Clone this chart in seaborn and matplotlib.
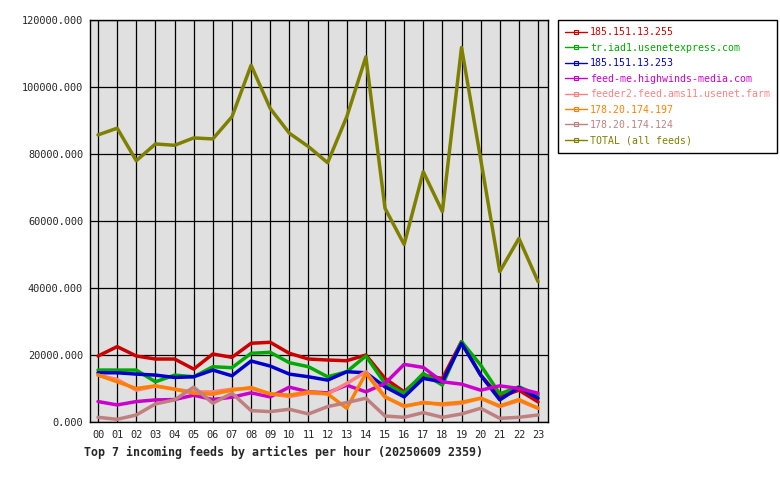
import pandas as pd
import matplotlib
matplotlib.use("Agg")
import matplotlib.pyplot as plt
import seaborn as sns
from matplotlib.lines import Line2D

HOURS = [f"{h:02d}" for h in range(24)]

FEEDS = [
    "185.151.13.255",
    "tr.iad1.usenetexpress.com",
    "185.151.13.253",
    "feed-me.highwinds-media.com",
    "feeder2.feed.ams11.usenet.farm",
    "178.20.174.197",
    "178.20.174.124",
    "TOTAL (all feeds)",
]

COLORS = ["#cc0000", "#00aa00", "#0000cc", "#cc00cc",
          "#ff8080", "#ff8000", "#c08080", "#808000"]

red_255 = [19700, 22500, 19700, 18800, 18800, 15800, 20300, 19300, 23500, 23800,
           20500, 18800, 18500, 18300, 20000, 13000, 9000, 14000, 13000, 24000,
           14000, 7500, 9500, 6000]
usenetexpress = [15500, 15500, 15500, 12000, 14000, 13500, 16500, 16200, 20500, 20800,
                 17700, 16500, 13500, 15000, 19700, 11500, 8600, 14500, 11000, 24000,
                 17000, 8400, 10500, 8000]
blue_253 = [14700, 14700, 14300, 14000, 13300, 13500, 15500, 13800, 18200, 16700,
            14300, 13500, 12500, 15000, 14700, 10500, 7500, 13000, 12000, 23500,
            14000, 6600, 10300, 7100]
highwinds = [6100, 5100, 6100, 6600, 6700, 8000, 6700, 7400, 8700, 7500,
             10400, 9000, 8700, 11000, 9000, 11500, 17200, 16300, 12000, 11300,
             9500, 10800, 10000, 8600]
usenet_farm = [14000, 12700, 9500, 10700, 9800, 9000, 9000, 9800, 10000, 8400,
               7600, 8600, 8400, 11500, 15000, 7600, 4600, 5900, 5100, 5600,
               7100, 4600, 6400, 4100]
orange_197 = [14000, 12000, 10000, 10800, 9800, 8600, 8300, 9500, 10300, 8400,
              8000, 9000, 8400, 4100, 14500, 7400, 4800, 5700, 5400, 5900,
              7100, 4800, 6700, 4100]
rosy_124 = [1400, 800, 2100, 5400, 6600, 10400, 5600, 8600, 3400, 3100,
            3800, 2400, 4600, 5800, 7100, 1800, 1400, 2800, 1400, 2400,
            4100, 1100, 1400, 2100]
total = [85700, 87700, 78000, 83000, 82600, 84800, 84500, 91100, 106500, 93600,
         86200, 82200, 77400, 91100, 109000, 63800, 53000, 74700, 62800, 111800,
         78500, 44900, 54800, 41900]

SERIES = [red_255, usenetexpress, blue_253, highwinds, usenet_farm,
          orange_197, rosy_124, total]

YTICKS = [0, 20000, 40000, 60000, 80000, 100000, 120000]
TITLE = "Top 7 incoming feeds by articles per hour (20250609 2359)"


def build_frame():
    rows = []
    for feed, values in zip(FEEDS, SERIES):
        for i, v in enumerate(values):
            rows.append({"hour": i, "feed": feed, "articles": v})
    return pd.DataFrame(rows)


def main():
    df = build_frame()
    sns.set_style("white")
    plt.rcParams["font.family"] = ["DejaVu Sans Mono"]

    fig = plt.figure(figsize=(7.8, 4.8), dpi=100)
    ax = fig.add_axes([90 / 780, 58 / 480, 458 / 780, 402 / 480])
    ax.set_facecolor("#e0e0e0")

    sns.lineplot(
        data=df, x="hour", y="articles", hue="feed",
        hue_order=FEEDS, palette=COLORS, linewidth=2.5,
        legend=False, ax=ax, zorder=3,
    )

    ax.set_xlim(-0.42, 23.52)
    ax.set_ylim(0, 120000)
    ax.set_xticks(range(24))
    ax.set_xticklabels(HOURS, fontsize=7.4)
    ax.set_yticks(YTICKS)
    ax.set_yticklabels([f"{v}.000" for v in YTICKS], fontsize=7.4)
    ax.tick_params(axis="x", length=0, pad=6)
    ax.tick_params(axis="y", length=3, width=1, color="black", pad=2)
    ax.grid(True, color="black", linewidth=0.9)
    ax.set_axisbelow(True)
    for s in ax.spines.values():
        s.set_color("black")
        s.set_linewidth(1)
    ax.set_xlabel("")
    ax.set_ylabel("")

    handles = [
        Line2D([0], [0], color=c, linewidth=1, marker="s", markersize=3,
               markerfacecolor="none", markeredgecolor=c, markeredgewidth=0.8)
        for c in COLORS
    ]
    leg = fig.legend(
        handles, FEEDS, loc="upper left",
        bbox_to_anchor=(558 / 780, 1 - 20 / 480),
        fontsize=7.1, frameon=True, fancybox=False, framealpha=1,
        edgecolor="black", handlelength=2.2, handletextpad=0.3,
        labelspacing=0.55, borderpad=0.75, borderaxespad=0,
    )
    leg.get_frame().set_linewidth(1)
    for text, c in zip(leg.get_texts(), COLORS):
        text.set_color(c)

    fig.text(84 / 780, 1 - 452 / 480, TITLE, fontsize=8.4, fontweight="bold",
             va="center", ha="left")

    fig.savefig("out.png", dpi=100)
    plt.close(fig)


if __name__ == "__main__":
    main()
